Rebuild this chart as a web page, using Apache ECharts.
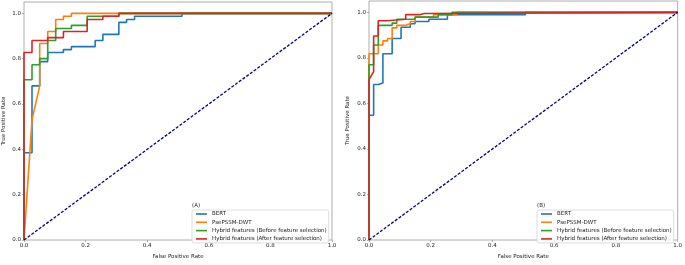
<!DOCTYPE html>
<html>
<head>
<meta charset="utf-8">
<script src="https://cdn.jsdelivr.net/npm/echarts@6/dist/echarts.min.js"></script>
<style>
  html, body { margin: 0; padding: 0; background: #fff; }
  #chart { width: 685px; height: 265px; }
</style>
</head>
<body>
<div id="chart"></div>
<script>
// tick labels (both axes, both panels)
var ticks = [0, 0.2, 0.4, 0.6, 0.8, 1.0]
var names = ['BERT', 'PsePSSM-DWT', 'Hybrid features (Before feature selection)', 'Hybrid features (After feature selection)']
var colors = ['#1f77b4', '#ff7f0e', '#2ca02c', '#d62728']

// panel (A)
var bertFprA = [0, 0, 0.026, 0.026, 0.051, 0.051, 0.077, 0.077, 0.128, 0.128, 0.154, 0.154, 0.231, 0.231, 0.256, 0.256, 0.308, 0.308, 0.333, 0.333, 0.359, 0.359, 0.513, 0.513, 1]
var bertTprA = [0, 0.385, 0.385, 0.68, 0.68, 0.787, 0.787, 0.827, 0.827, 0.84, 0.84, 0.853, 0.853, 0.88, 0.88, 0.907, 0.907, 0.96, 0.96, 0.973, 0.973, 0.987, 0.987, 1, 1]
var pseFprA = [0, 0.026, 0.051, 0.051, 0.077, 0.077, 0.103, 0.103, 0.128, 0.128, 0.154, 0.154, 1]
var pseTprA = [0, 0.53, 0.68, 0.867, 0.867, 0.92, 0.92, 0.973, 0.973, 0.987, 0.987, 1, 1]
var hbFprA = [0, 0, 0.026, 0.026, 0.051, 0.051, 0.077, 0.077, 0.103, 0.103, 0.154, 0.154, 0.205, 0.205, 0.308, 0.308, 1]
var hbTprA = [0, 0.707, 0.707, 0.773, 0.773, 0.8, 0.8, 0.88, 0.88, 0.933, 0.933, 0.947, 0.947, 0.987, 0.987, 1, 1]
var haFprA = [0, 0, 0.026, 0.026, 0.077, 0.077, 0.128, 0.128, 0.205, 0.205, 0.256, 0.256, 0.308, 0.308, 1]
var haTprA = [0, 0.827, 0.827, 0.88, 0.88, 0.893, 0.893, 0.92, 0.92, 0.973, 0.973, 0.987, 0.987, 1, 1]

// panel (B)
var bertFprB = [0, 0, 0.015, 0.015, 0.03, 0.03, 0.045, 0.045, 0.075, 0.075, 0.104, 0.104, 0.134, 0.134, 0.149, 0.149, 0.194, 0.194, 0.254, 0.254, 0.507, 0.507, 1]
var bertTprB = [0, 0.548, 0.548, 0.683, 0.683, 0.69, 0.69, 0.818, 0.818, 0.885, 0.885, 0.935, 0.935, 0.95, 0.95, 0.96, 0.96, 0.97, 0.97, 0.99, 0.99, 1, 1]
var pseFprB = [0, 0, 0.03, 0.03, 0.045, 0.045, 0.06, 0.06, 0.075, 0.075, 0.09, 0.09, 0.119, 0.119, 0.134, 0.134, 0.149, 0.149, 0.209, 0.209, 0.284, 0.284, 1]
var pseTprB = [0, 0.818, 0.818, 0.857, 0.857, 0.875, 0.875, 0.885, 0.885, 0.932, 0.932, 0.943, 0.943, 0.95, 0.95, 0.96, 0.96, 0.979, 0.979, 0.99, 0.99, 1, 1]
var hbFprB = [0, 0, 0.015, 0.015, 0.03, 0.03, 0.075, 0.075, 0.09, 0.09, 0.149, 0.149, 0.224, 0.224, 0.269, 0.269, 1]
var hbTprB = [0, 0.77, 0.77, 0.857, 0.857, 0.943, 0.943, 0.953, 0.953, 0.97, 0.97, 0.979, 0.979, 0.99, 0.99, 1, 1]
var haFprB = [0, 0, 0.015, 0.015, 0.03, 0.03, 0.06, 0.06, 0.119, 0.119, 0.164, 0.164, 0.179, 0.179, 1]
var haTprB = [0, 0.705, 0.74, 0.896, 0.896, 0.963, 0.963, 0.97, 0.97, 0.99, 0.99, 0.995, 0.995, 1, 1]

var chanceFpr = [0, 1]
var chanceTpr = [0, 1]

var font = 'DejaVu Sans'
var textColor = '#222'
var frameColor = '#9a9a9a'

function pairs(xs, ys) {
    return xs.map(function(x, i) { return [x, ys[i]] })
}

function makeAxis(idx, isX) {
    return {
        type: 'value',
        gridIndex: idx,
        min: 0,
        max: isX ? 1 : 1.05,
        interval: 0.2,
        name: isX ? 'False Positive Rate' : 'True Positive Rate',
        nameLocation: 'middle',
        nameGap: isX ? 14 : (idx == 0 ? 17 : 18),
        nameTextStyle: { fontFamily: font, fontSize: 5.5, color: textColor },
        axisLine: { show: false },
        axisTick: { show: true, length: 2, customValues: ticks, lineStyle: { color: frameColor, width: 0.8 } },
        axisLabel: {
            customValues: ticks,
            margin: 3,
            fontFamily: font, fontSize: 5.5, color: textColor,
            formatter: function(v) { return v.toFixed(1) }
        },
        splitLine: { show: false }
    }
}

function roc(name, idx, xs, ys, color) {
    return {
        name: name,
        type: 'line',
        xAxisIndex: idx,
        yAxisIndex: idx,
        data: pairs(xs, ys),
        showSymbol: false,
        symbol: 'none',
        animation: false,
        lineStyle: { color: color, width: 1.6 },
        itemStyle: { color: color }
    }
}

function chance(idx) {
    return {
        name: 'chance',
        type: 'line',
        xAxisIndex: idx,
        yAxisIndex: idx,
        data: pairs(chanceFpr, chanceTpr),
        showSymbol: false,
        symbol: 'none',
        animation: false,
        lineStyle: { color: '#000080', width: 1.3, type: [3, 1.6] }
    }
}

function legend(left) {
    return {
        data: names,
        orient: 'vertical',
        left: left,
        top: 210,
        icon: 'rect',
        itemWidth: 11,
        itemHeight: 1.6,
        itemGap: 2.3,
        padding: [1, 2, 1, 4],
        borderColor: '#d4d4d4',
        borderWidth: 0.8,
        borderRadius: 2,
        backgroundColor: 'rgba(255,255,255,0.8)',
        textStyle: { fontFamily: font, fontSize: 5.5, lineHeight: 6, color: textColor, padding: 0 }
    }
}

var option = {
    backgroundColor: '#fff',
    animation: false,
    title: [
        { text: '(A)', left: 192, top: 202.5, padding: 0, textStyle: { fontFamily: font, fontSize: 5.5, fontWeight: 'normal', color: textColor } },
        { text: '(B)', left: 537, top: 202.5, padding: 0, textStyle: { fontFamily: font, fontSize: 5.5, fontWeight: 'normal', color: textColor } }
    ],
    legend: [legend(192), legend(537)],
    grid: [
        { left: 22, top: 2, width: 310, height: 245, show: true, borderColor: frameColor, borderWidth: 0.8 },
        { left: 369, top: 1, width: 311, height: 246, show: true, borderColor: frameColor, borderWidth: 0.8 }
    ],
    xAxis: [makeAxis(0, true), makeAxis(1, true)],
    yAxis: [makeAxis(0, false), makeAxis(1, false)],
    series: [
        roc(names[0], 0, bertFprA, bertTprA, colors[0]),
        roc(names[1], 0, pseFprA, pseTprA, colors[1]),
        roc(names[2], 0, hbFprA, hbTprA, colors[2]),
        roc(names[3], 0, haFprA, haTprA, colors[3]),
        chance(0),
        roc(names[0], 1, bertFprB, bertTprB, colors[0]),
        roc(names[1], 1, pseFprB, pseTprB, colors[1]),
        roc(names[2], 1, hbFprB, hbTprB, colors[2]),
        roc(names[3], 1, haFprB, haTprB, colors[3]),
        chance(1)
    ]
}

var myChart = echarts.init(document.getElementById('chart'))
myChart.setOption(option)
</script>
</body>
</html>
